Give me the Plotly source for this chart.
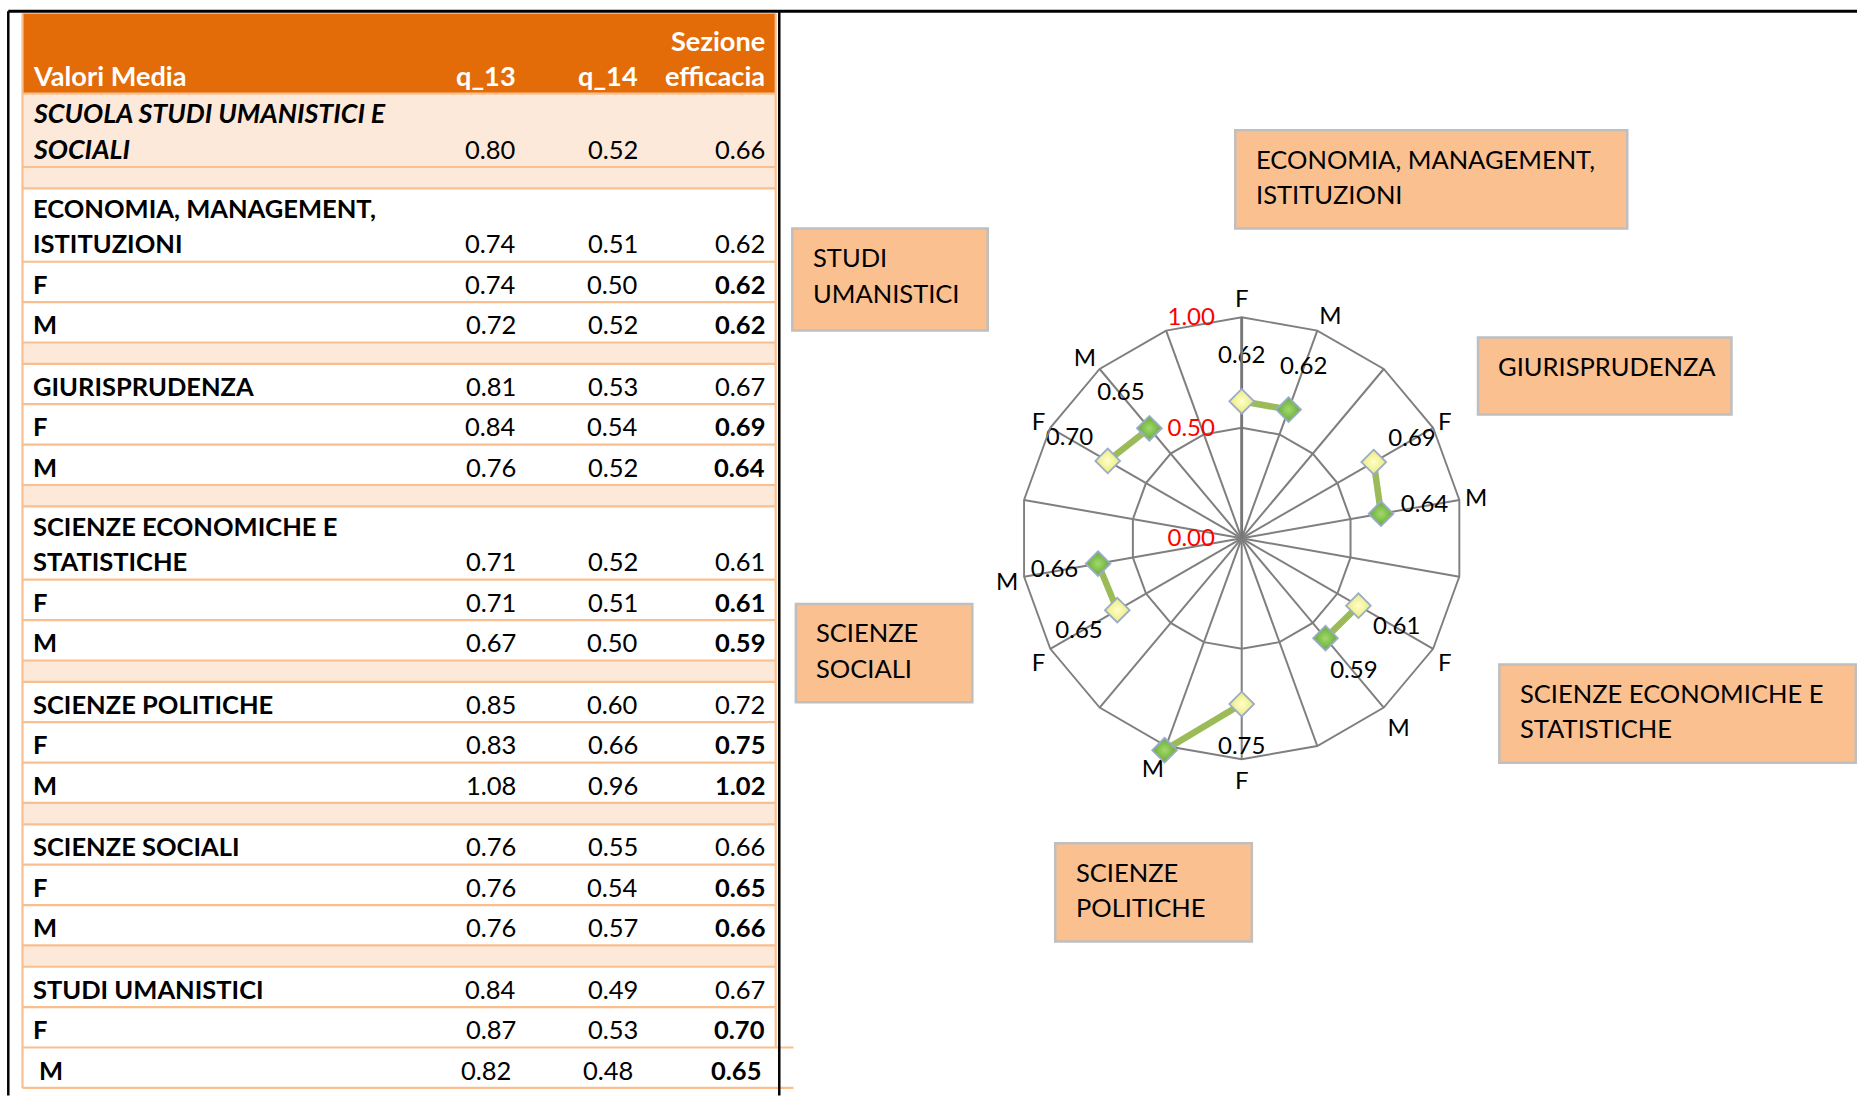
import plotly.graph_objects as go

# ---------------- data ----------------
school_label = "SCUOLA STUDI UMANISTICI E<br>SOCIALI"
school_vals = [0.80, 0.52, 0.66]

dept_codes = ["EMI", "GIU", "SES", "SP", "SS", "SU"]
dept_table_labels = ["ECONOMIA, MANAGEMENT,<br>ISTITUZIONI", "GIURISPRUDENZA",
                     "SCIENZE ECONOMICHE E<br>STATISTICHE", "SCIENZE POLITICHE",
                     "SCIENZE SOCIALI", "STUDI UMANISTICI"]
dept_box_labels = ["ECONOMIA, MANAGEMENT,<br>ISTITUZIONI", "GIURISPRUDENZA",
                   "SCIENZE ECONOMICHE E<br>STATISTICHE", "SCIENZE<br>POLITICHE",
                   "SCIENZE<br>SOCIALI", "STUDI<br>UMANISTICI"]
dept_q13 = [0.74, 0.81, 0.71, 0.85, 0.76, 0.84]
dept_q14 = [0.51, 0.53, 0.52, 0.60, 0.55, 0.49]
dept_sez = [0.62, 0.67, 0.61, 0.72, 0.66, 0.67]
f_q13 = [0.74, 0.84, 0.71, 0.83, 0.76, 0.87]
f_q14 = [0.50, 0.54, 0.51, 0.66, 0.54, 0.53]
f_sez = [0.62, 0.69, 0.61, 0.75, 0.65, 0.70]
m_q13 = [0.72, 0.76, 0.67, 1.08, 0.76, 0.82]
m_q14 = [0.52, 0.52, 0.50, 0.96, 0.57, 0.48]
m_sez = [0.62, 0.64, 0.59, 1.02, 0.66, 0.65]
header_labels = ["Valori Media", "q_13", "q_14", "Sezione<br>efficacia"]
radial_ticks = [0.0, 0.5, 1.0]

# ---------------- geometry helpers (reference drawn at 1568 wide) ----------------
W, H = 1857, 1096
S = W / 1568.0
def px(x):
    return x * S / W
def py(y):
    return 1 - y * S / H

FONT = "Lato"
FS = 25.5
FS_HEAD = 27.2
FS_ITAL = 26.8
ORANGE = "#E36C09"
PEACH = "#FDE9D9"
LINE_OR = "#F9BF8F"
GRID = "#7F7F7F"

shapes = []
annos = []

def rect(x0, y0, x1, y1, fill, line_color=None, lw=0):
    shapes.append(dict(type="rect", xref="paper", yref="paper", x0=px(x0), x1=px(x1),
                       y0=py(y1), y1=py(y0), fillcolor=fill,
                       line=dict(color=line_color or fill, width=lw), layer="below"))

def hline(x0, x1, y, color, w):
    shapes.append(dict(type="line", xref="paper", yref="paper", x0=px(x0), x1=px(x1),
                       y0=py(y), y1=py(y), line=dict(color=color, width=w), layer="below"))

def vline(x, y0, y1, color, w):
    shapes.append(dict(type="line", xref="paper", yref="paper", x0=px(x), x1=px(x),
                       y0=py(y0), y1=py(y1), line=dict(color=color, width=w), layer="below"))

def text(x, y, s, anchor="left", color="black", size=FS):
    annos.append(dict(xref="paper", yref="paper", x=px(x), y=py(y), text=s, showarrow=False,
                      xanchor=anchor, yanchor="middle", font=dict(family=FONT, size=size, color=color)))

# ---------------- table ----------------
TL, TR = 19, 655
COLX = [437.5, 540.5, 647.5]
LABX = 26.5
HEAD_TOP, HEAD_BOT = 11.5, 79
rect(TL, HEAD_TOP, TR, HEAD_BOT, ORANGE)
text(LABX, 64, "<b>" + header_labels[0] + "</b>", color="white", size=FS_HEAD)
text(COLX[0], 64, "<b>" + header_labels[1] + "</b>", "right", "white", FS_HEAD)
text(COLX[1], 64, "<b>" + header_labels[2] + "</b>", "right", "white", FS_HEAD)
sez_lines = header_labels[3].split("<br>")
text(COLX[2], 34, "<b>" + sez_lines[0] + "</b>", "right", "white", FS_HEAD)
text(COLX[2], 64, "<b>" + sez_lines[1] + "</b>", "right", "white", FS_HEAD)

rows = [(school_label, school_vals, "school")]
rows.append(("", None, "spacer"))
for i in range(len(dept_codes)):
    rows.append((dept_table_labels[i], [dept_q13[i], dept_q14[i], dept_sez[i]], "dept"))
    rows.append(("F", [f_q13[i], f_q14[i], f_sez[i]], "sex"))
    rows.append(("M", [m_q13[i], m_q14[i], m_sez[i]], "sex"))
    if i < len(dept_codes) - 1:
        rows.append(("", None, "spacer"))

H1, H2, HSP = 34.1, 62.0, 18.0
y = HEAD_BOT
bounds = [y]
n = len(rows)
for k, (lab, vals, kind) in enumerate(rows):
    if kind == "spacer":
        h = HSP
    elif "<br>" in lab:
        h = H2
    else:
        h = H1
    y0, y1 = y, y + h
    last = (k == n - 1)
    if kind in ("spacer", "school"):
        rect(TL, y0, TR, y1, PEACH)
    if kind != "spacer":
        lines = lab.split("<br>")
        base = y1 - 15.5
        dx_lab = 5 if last else 0
        for j, ln in enumerate(lines):
            yy = base - 30 * (len(lines) - 1 - j)
            if kind == "school":
                text(LABX + dx_lab, yy, "<b><i>" + ln + "</i></b>", size=FS_ITAL)
            else:
                text(LABX + dx_lab, yy, "<b>" + ln + "</b>")
        offs = [-4.5, -4, -3] if last else [0, 0, 0]
        for c, v in enumerate(vals):
            s = "%.2f" % v
            if kind == "sex" and c == 2:
                s = "<b>" + s + "</b>"
            text(COLX[c] + offs[c], base, s, "right")
    y = y1
    bounds.append(y)

for k, b in enumerate(bounds):
    x1 = 670 if k >= len(bounds) - 2 else TR
    hline(TL, x1, b, LINE_OR, 2.2)
vline(TL, HEAD_TOP, bounds[-1], LINE_OR, 2.2)
vline(TR, HEAD_TOP, bounds[-2], LINE_OR, 2.2)

# page frame lines
hline(7, 1568, 9.5, "black", 3)
vline(7, 9.5, 925, "black", 2.5)
vline(658, 9.5, 925, "black", 2.5)

# ---------------- department boxes ----------------
box_pos = [(1043, 110, 1374, 193), (1248, 285, 1462, 350), (1266, 561, 1567, 644),
           (891, 712, 1057, 795), (672, 510, 821, 593), (669, 193, 834, 279)]
for lab, (x0, y0, x1, y1) in zip(dept_box_labels, box_pos):
    rect(x0, y0, x1, y1, "#FAC090", "#BFBFBF", 2.5)
    for j, ln in enumerate(lab.split("<br>")):
        text(x0 + 15.5, y0 + 24 + 30 * j, ln)

# ---------------- radar ----------------
cats, ticktext, r_line = [], [], []
for i, c in enumerate(dept_codes):
    cats += [c + "_F", c + "_M", c + "_gap"]
    ticktext += ["F", "M", ""]
    r_line += [f_sez[i], m_sez[i], None]

f_theta = [c + "_F" for c in dept_codes]
m_theta = [c + "_M" for c in dept_codes]
lab_theta, lab_r, lab_text = [], [], []
for i, c in enumerate(dept_codes):
    for th, v in ((c + "_F", f_sez[i]), (c + "_M", m_sez[i])):
        if v <= 1:
            lab_theta.append(th)
            lab_r.append(v + 0.2)
            lab_text.append("%.2f" % v)

RMAX = 1.0          # visible scale maximum
RMAX_DATA = 1.05    # overlay subplot range so points just beyond 1.00 remain drawn

fig = go.Figure()
fig.add_trace(go.Scatterpolar(theta=lab_theta, r=lab_r, mode="text", text=lab_text, subplot="polar",
                              textfont=dict(family=FONT, size=24, color="black"),
                              cliponaxis=False, showlegend=False, hoverinfo="skip"))
fig.add_trace(go.Scatterpolar(theta=cats, r=r_line, mode="lines", connectgaps=False, subplot="polar2",
                              line=dict(color="#9BBB59", width=6.5), cliponaxis=False,
                              hoverinfo="skip", showlegend=False))
fig.add_trace(go.Scatterpolar(theta=f_theta, r=f_sez, mode="markers", cliponaxis=False, subplot="polar2",
                              marker=dict(symbol="diamond", size=19, color="#EAEA78",
                                          gradient=dict(type="radial", color="#FFFFCC"),
                                          line=dict(color="#9AAAC8", width=1.8)),
                              showlegend=False, name="F"))
fig.add_trace(go.Scatterpolar(theta=m_theta, r=m_sez, mode="markers", cliponaxis=False, subplot="polar2",
                              marker=dict(symbol="diamond", size=19, color="#62AB33",
                                          gradient=dict(type="radial", color="#A4D86C"),
                                          line=dict(color="#9AAAC8", width=1.8)),
                              showlegend=False, name="M"))

cx, cy, R = 1241.7, 538.3, 221.0
R2 = R * RMAX_DATA / RMAX
def dom(r):
    return dict(x=[(cx - r) / W, (cx + r) / W], y=[1 - (cy + r) / H, 1 - (cy - r) / H])

ang_common = dict(type="category", categoryarray=cats, direction="clockwise", rotation=90)

fig.update_layout(
    width=W, height=H, margin=dict(l=0, r=0, t=0, b=0),
    paper_bgcolor="white", plot_bgcolor="white", showlegend=False,
    shapes=shapes, annotations=annos,
    polar=dict(
        domain=dom(R),
        bgcolor="rgba(0,0,0,0)", gridshape="linear",
        angularaxis=dict(**ang_common,
                         tickmode="array", tickvals=cats, ticktext=ticktext,
                         showgrid=True, gridcolor=GRID, gridwidth=1.7,
                         showline=True, linecolor=GRID, linewidth=1.9,
                         ticks="", 
                         tickfont=dict(family=FONT, size=24, color="black")),
        radialaxis=dict(range=[0, RMAX], tickmode="array", tickvals=radial_ticks, tickformat=".2f",
                        tickfont=dict(family=FONT, size=24, color="red"), tickangle=90,
                        showline=True, linecolor="#767676", linewidth=2.8,
                        showgrid=True, gridcolor=GRID, gridwidth=1.7,
                        angle=90, side="counterclockwise",
                        ticks="outside", ticklen=17, tickcolor="rgba(0,0,0,0)"),
    ),
    polar2=dict(
        domain=dom(R2),
        bgcolor="rgba(0,0,0,0)", gridshape="linear",
        angularaxis=dict(**ang_common, showgrid=False, showline=False, showticklabels=False, ticks=""),
        radialaxis=dict(range=[0, RMAX_DATA], visible=False, showgrid=False, showline=False,
                        showticklabels=False, ticks=""),
    ),
)

fig.write_html("out.html", config={"displayModeBar": False},
               post_script="document.body.style.margin='0';document.body.style.overflow='hidden';")
